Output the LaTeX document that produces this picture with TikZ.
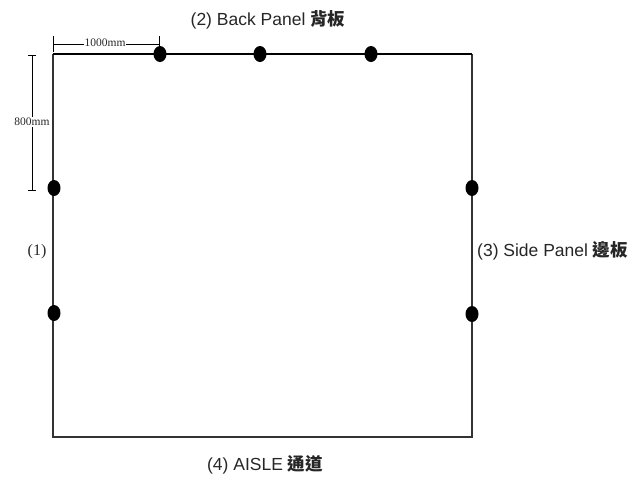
\documentclass[tikz,border=0pt]{standalone}
\usepackage{fontspec}
\usetikzlibrary{shapes.geometric}
\setmainfont{Liberation Sans}
\newfontfamily\cjk{Noto Sans CJK TC}
\newfontfamily\serifx{Liberation Serif}
\begin{document}
\begin{tikzpicture}[x=1pt,y=-1pt,
  wall/.style={line width=1.3pt,draw=black!80},
  backwall/.style={line width=2.6pt},
  post/.style={ellipse,fill=black,inner sep=0pt,minimum width=13pt,minimum height=16pt},
  dim/.style={line width=0.8pt},
  dimtext/.style={font=\serifx\fontsize{11.5}{11.5}\selectfont,fill=white,inner sep=1pt,text=black!85},
  lbl/.style={font=\fontsize{17.5}{17.5}\selectfont,inner sep=0pt,text=black!85}]
\useasboundingbox (0,0) rectangle (641,477);
\coordinate (tl) at (53,54);
\coordinate (tr) at (472,54);
\coordinate (bl) at (53,437);
\coordinate (br) at (472,437);
\draw[wall] (tl) -- (bl) -- (br) -- (tr);
\draw[backwall] (tl) -- (tr);
\node[post] (p1) at (160,54) {};
\node[post] (p2) at (260,54) {};
\node[post] (p3) at (371,54) {};
\node[post] (l1) at (54,188) {};
\node[post] (l2) at (54,313) {};
\node[post] (r1) at (472,188) {};
\node[post] (r2) at (472,314) {};
% 1000mm dimension
\coordinate (h1) at (53,44);
\coordinate (h2) at (159,44);
\draw[dim] (h1) -- (h2);
\draw[dim] (53,36) -- (53,52);
\draw[dim] (159,36) -- (159,46);
\node[dimtext] (t1000) at (105,43) {1000mm};
% 800mm dimension
\coordinate (v1) at (32,55);
\coordinate (v2) at (32,190);
\draw[dim] (v1) -- (v2);
\draw[dim] (28,55) -- (36,55);
\draw[dim] (28,190) -- (36,190);
\node[dimtext] (t800) at (32,122) {800mm};
% labels
\node[lbl] (back) at (268,20) {(2) Back Panel {\cjk\bfseries 背板}};
\node[lbl,anchor=west] (side) at (477,251) {(3) Side Panel {\cjk\bfseries 邊板}};
\node[lbl] (aisle) at (265,465) {(4) AISLE {\cjk\bfseries 通道}};
\node[font=\serifx\fontsize{16}{16}\selectfont,text=black!85] (one) at (37,252) {(1)};
\end{tikzpicture}
\end{document}
